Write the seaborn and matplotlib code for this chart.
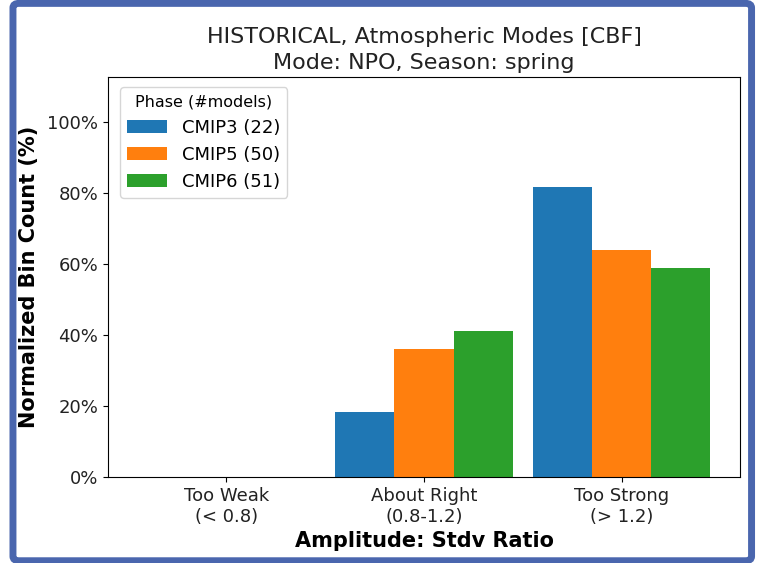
import pandas as pd
import matplotlib.pyplot as plt
import seaborn as sns
from matplotlib.patches import FancyBboxPatch
from matplotlib.ticker import PercentFormatter

# data (fraction of models per bin)
bins = ["Too Weak\n(< 0.8)", "About Right\n(0.8-1.2)", "Too Strong\n(> 1.2)"]
phases = ["CMIP3 (22)", "CMIP5 (50)", "CMIP6 (51)"]
cmip3 = [0.0, 0.182, 0.818]
cmip5 = [0.0, 0.36, 0.64]
cmip6 = [0.0, 0.412, 0.588]
colors = ["#1f77b4", "#ff7f0e", "#2ca02c"]

df = pd.DataFrame({
    "bin": bins * 3,
    "phase": [phases[0]] * 3 + [phases[1]] * 3 + [phases[2]] * 3,
    "value": cmip3 + cmip5 + cmip6,
})

fig = plt.figure(figsize=(7.63, 5.63), dpi=100)
ax = fig.add_axes([0.1415, 0.1527, 0.8285, 0.7103])

sns.barplot(data=df, x="bin", y="value", hue="phase", order=bins,
            hue_order=phases, palette=colors, width=0.9, saturation=1,
            ax=ax)

ax.set_xlim(-0.6, 2.6)
ax.set_ylim(0, 1.127)
ax.set_yticks([0, 0.2, 0.4, 0.6, 0.8, 1.0])
ax.yaxis.set_major_formatter(PercentFormatter(1.0, decimals=0))
ax.tick_params(labelsize=13, labelcolor="#222222")

ax.set_title("HISTORICAL, Atmospheric Modes [CBF]\nMode: NPO, Season: spring",
             fontsize=16, color="#222222", pad=6, linespacing=1.35)
ax.set_xlabel("Amplitude: Stdv Ratio", fontsize=15, fontweight="bold", labelpad=4)
ax.set_ylabel("Normalized Bin Count (%)", fontsize=15, fontweight="bold", labelpad=6)

ax.legend(title="Phase (#models)", loc="upper left", fontsize=13,
          title_fontsize=11.5, handlelength=2.2,
          bbox_to_anchor=(0.005, 0.997))

# blue screenshot frame around the figure
frame = FancyBboxPatch((0.017, 0.004), 0.968, 0.99,
                       boxstyle="round,pad=0,rounding_size=0.008",
                       transform=fig.transFigure, fill=False,
                       edgecolor="#4a66ae", linewidth=5, zorder=10)
fig.patches.append(frame)

plt.savefig("out.png", dpi=100)
plt.close()
